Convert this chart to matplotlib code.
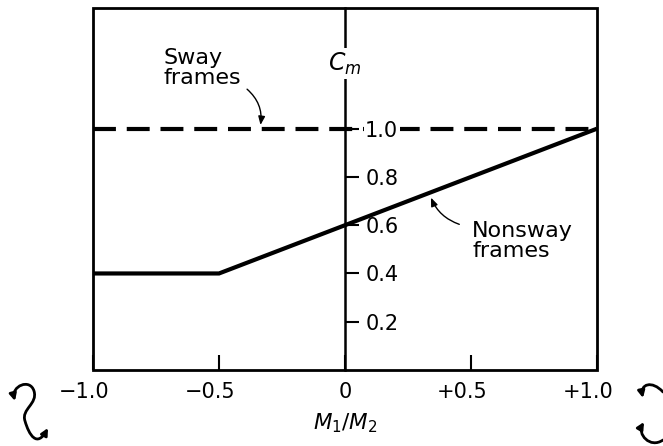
import matplotlib
matplotlib.use('Agg')
import matplotlib.pyplot as plt
from matplotlib.patches import FancyArrowPatch, Rectangle
from matplotlib.path import Path

plt.rcParams['font.family'] = ['DejaVu Sans']
plt.rcParams['mathtext.fontset'] = 'dejavusans'

# data
ratio_nonsway = [-1.0, -0.5, 1.0]
cm_nonsway = [0.4, 0.4, 1.0]
ratio_sway = [-1.0, 1.0]
cm_sway = [1.0, 1.0]

x_ticks = [-1.0, -0.5, 0.0, 0.5, 1.0]
x_tick_labels = ['\u22121.0', '\u22120.5', '0', '+0.5', '+1.0']
y_ticks = [0.2, 0.4, 0.6, 0.8, 1.0]
y_tick_labels = ['0.2', '0.4', '0.6', '0.8', '1.0']

W, H = 663, 446
fig = plt.figure(figsize=(W / 100, H / 100), dpi=100)
ax = fig.add_axes([93 / W, 1 - 370 / H, (597 - 93) / W, (370 - 8) / H])
ax.set_xlim(-1.0, 1.0)
ax.set_ylim(0.0, 1.5)
ax.set_axisbelow(False)

ax.plot(ratio_sway, cm_sway, color='black', lw=3, dashes=(5.5, 2.6),
        solid_capstyle='butt', dash_capstyle='butt')
ax.plot(ratio_nonsway, cm_nonsway, color='black', lw=3,
        solid_capstyle='butt', solid_joinstyle='miter')

# frame, center axis at M1/M2 = 0
for s in ['top', 'right', 'bottom']:
    ax.spines[s].set_visible(False)
ax.spines['left'].set_position(('data', 0))
ax.spines['left'].set_linewidth(1.8)
ax.add_patch(Rectangle((0, 0), 1, 1, transform=ax.transAxes, fill=False,
                       lw=2, edgecolor='black', clip_on=False, zorder=2.6))

ax.set_yticks(y_ticks)
ax.set_yticklabels(y_tick_labels)
ax.tick_params(axis='y', direction='in', length=10, width=1.5,
               pad=-14.5, labelsize=15)
for lab in ax.get_yticklabels():
    lab.set_horizontalalignment('left')
    if lab.get_text() == '1.0':
        lab.set_bbox(dict(facecolor='white', edgecolor='none', pad=1))

ax.set_xticks(x_ticks)
ax.set_xticklabels([])
ax.tick_params(axis='x', direction='in', length=11, width=1.5)

for xv, lab in zip(x_ticks, x_tick_labels):
    if lab == '0':
        ax.annotate(lab, (xv, 0), xytext=(0, -16), textcoords='offset points',
                    ha='center', va='center', fontsize=15, annotation_clip=False)
    else:
        ax.annotate(lab, (xv, 0), xytext=(12, -16), textcoords='offset points',
                    ha='right', va='center', fontsize=15, annotation_clip=False)

ax.text(0.5, -0.146, r'$M_1/M_2$', transform=ax.transAxes, ha='center',
        va='center', fontsize=15.5)
ax.text(0.0, 1.27, r'$C_m$', ha='center', va='center', fontsize=17,
        bbox=dict(facecolor='white', edgecolor='none', pad=2), zorder=3)

# annotations
ax.text(-0.722, 1.25, 'Sway\nframes', ha='left', va='center', fontsize=16,
        linespacing=1.0)
ax.annotate('', xy=(-0.337, 1.004), xytext=(-0.397, 1.171),
            arrowprops=dict(arrowstyle='-|>,head_length=0.5,head_width=0.2',
                            color='black', lw=1.0,
                            connectionstyle='arc3,rad=-0.3'))
ax.text(0.504, 0.533, 'Nonsway\nframes', ha='left', va='center', fontsize=16,
        linespacing=1.0)
ax.annotate('', xy=(0.337, 0.725), xytext=(0.464, 0.60),
            arrowprops=dict(arrowstyle='-|>,head_length=0.5,head_width=0.2',
                            color='black', lw=1.0,
                            connectionstyle='arc3,rad=-0.25'))


# moment symbols at both ends (figure pixels, y measured from top)
def fp(x, y):
    return (x / W, 1 - y / H)


def curl(pts, style):
    codes = [Path.MOVETO] + [Path.CURVE4] * (len(pts) - 1)
    p = FancyArrowPatch(path=Path([fp(*q) for q in pts], codes),
                        arrowstyle=style, color='black', lw=2.0,
                        mutation_scale=10, transform=fig.transFigure)
    fig.add_artist(p)


curl([(15, 401), (11, 386), (30, 378), (34, 391),
      (38, 404), (21, 409), (25, 421),
      (29, 435), (37, 448), (48, 428)], '<|-|>')
curl([(663, 392), (652, 380), (640, 384), (643, 398)], '-|>')
curl([(663, 440), (650, 449), (637, 434), (644, 422)], '-|>')

fig.savefig('out.png', dpi=100)
